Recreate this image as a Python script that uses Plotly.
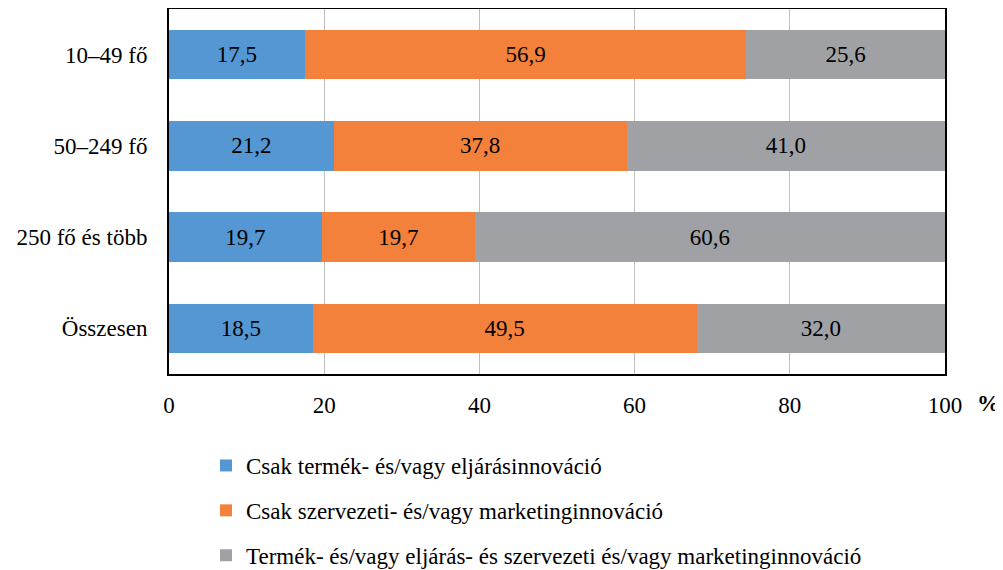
import plotly.graph_objects as go

categories = ["10–49 fő", "50–249 fő", "250 fő és több", "Összesen"]
series_names = [
    "Csak termék- és/vagy eljárásinnováció",
    "Csak szervezeti- és/vagy marketinginnováció",
    "Termék- és/vagy eljárás- és szervezeti és/vagy marketinginnováció",
]
product_only = [17.5, 21.2, 19.7, 18.5]
org_only = [56.9, 37.8, 19.7, 49.5]
both = [25.6, 41.0, 60.6, 32.0]
x_ticks = [0, 20, 40, 60, 80, 100]

colors = ["#5497D3", "#F4813B", "#9FA1A5"]
FONT = "Times New Roman, Liberation Serif, Tinos, DejaVu Serif"
FS = 23

W, H = 995, 562  # page has an 8px body margin
L, T, PW, PH = 161, 1, 776, 365

fig = go.Figure()
for i, (name, vals) in enumerate(zip(series_names, [product_only, org_only, both])):
    fig.add_trace(go.Bar(
        y=categories, x=vals, name=name, orientation="h",
        marker=dict(color=colors[i], line=dict(width=0)),
        text=[f"{v:.1f}".replace(".", ",") for v in vals],
        textposition="inside", insidetextanchor="middle",
        textfont=dict(family=FONT, size=FS, color="black"),
        legendgroup=str(i), width=0.545,
    ))

fig.update_layout(
    barmode="stack",
    width=W, height=H,
    margin=dict(l=L, r=W - L - PW, t=T, b=H - T - PH, autoexpand=False),
    paper_bgcolor="white", plot_bgcolor="white",
    font=dict(family=FONT, size=FS, color="black"),
    showlegend=True,
    legend=dict(
        orientation="v", xref="container", x=198 / W, xanchor="left",
        yref="container", y=1 - 436 / H, yanchor="top",
        font=dict(family=FONT, size=FS, color="black"),
        tracegroupgap=12, traceorder="grouped",
    ),
)
fig.update_xaxes(
    range=[0, 100], tickvals=x_ticks, ticktext=[str(t) for t in x_ticks],
    showgrid=True, gridcolor="#BFBFBF", gridwidth=1,
    showline=True, mirror=True, linecolor="black", linewidth=2,
    ticks="", ticklabelstandoff=9, zeroline=False,
    tickfont=dict(family=FONT, size=FS),
)
fig.update_yaxes(
    categoryorder="array", categoryarray=categories, autorange="reversed",
    showline=True, mirror=True, linecolor="black", linewidth=2,
    ticks="", ticklabelstandoff=15, showgrid=False,
    tickfont=dict(family=FONT, size=FS),
)
fig.add_annotation(
    text="<b>%</b>", xref="paper", yref="paper", x=(988 - 169) / PW,
    y=-(403 - 374) / PH, showarrow=False, xanchor="center", yanchor="middle",
    font=dict(family=FONT, size=FS, color="black"),
)
fig.write_html("out.html")
